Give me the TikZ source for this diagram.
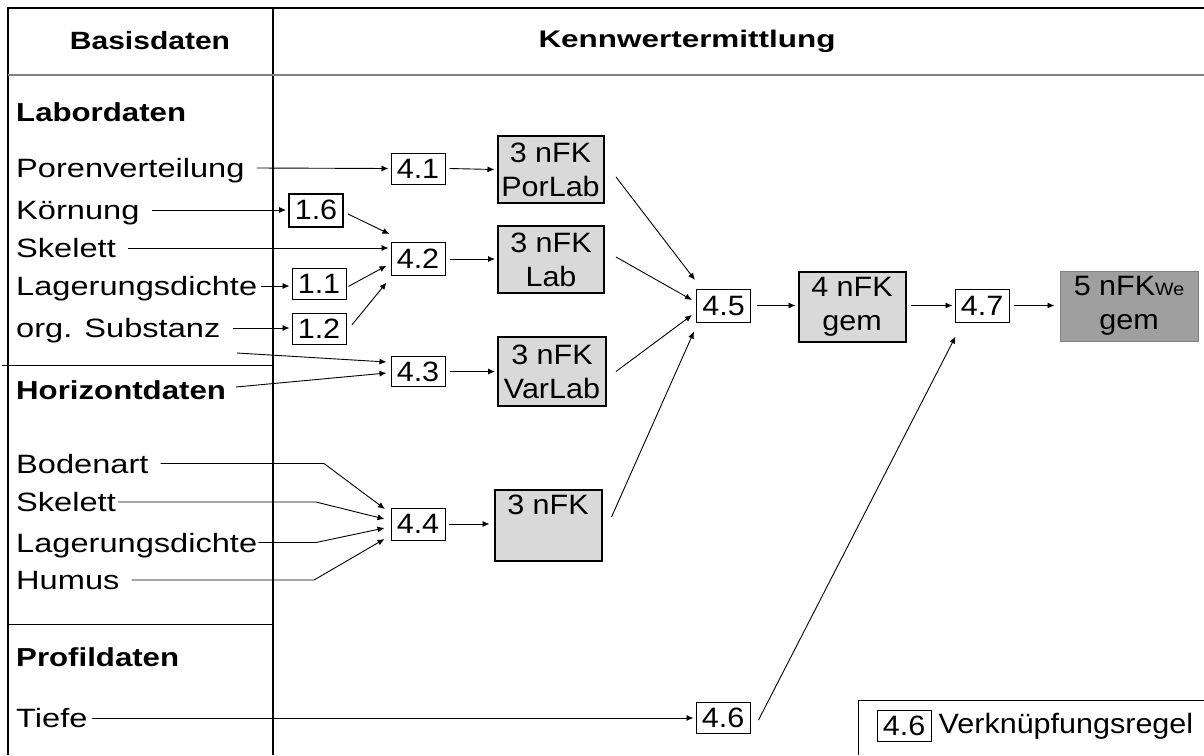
\documentclass[tikz,border=0pt]{standalone}
\usepackage{fontspec}
\setmainfont{Liberation Sans}
\newfontfamily\lblfont{Liberation Sans}[FakeStretch=1.23]
\newfontfamily\boxfont{Liberation Sans}[FakeStretch=1.09]
\newfontfamily\hdrfont{Liberation Sans}[FakeStretch=1.2]
\newfontfamily\hdrwfont{Liberation Sans}[FakeStretch=1.31]
\usetikzlibrary{arrows.meta}
\begin{document}
\begin{tikzpicture}[x=1pt,y=-1pt,
  lbl/.style={anchor=west,inner sep=0pt,text height=19pt,text depth=0pt,font=\lblfont\fontsize{26.5}{30}\selectfont},
  hdr/.style={inner sep=0pt,font=\hdrfont\fontsize{25}{25}\selectfont\bfseries},
  sec/.style={anchor=west,inner sep=0pt,text height=19pt,text depth=0pt,font=\hdrfont\fontsize{26}{26}\selectfont\bfseries},
  rulebox/.style={draw,line width=1pt,fill=white,inner sep=0pt,minimum width=54pt,minimum height=31pt,font=\boxfont\fontsize{28}{28}\selectfont},
  resbox/.style={draw,line width=2pt,fill=gray!30,align=center,font=\boxfont\fontsize{28}{34}\selectfont,inner sep=0pt,minimum width=106pt,minimum height=68pt},
  conn/.style={line width=0.9pt,-{Latex[length=7pt,width=6pt]}},
  frame/.style={line width=1.6pt},
]
\useasboundingbox (0,0) rectangle (1204,755);
\fill[white] (0,0) rectangle (1204,755);
% frame
\draw[frame] (1204,8) -- (8,8) -- (8,755);
\draw[line width=1.3pt] (273,8) -- (273,755);
\draw[line width=1.6pt,gray] (8,75) -- (1204,75);
\draw[line width=1pt] (2,365) -- (273,365);
\draw[line width=1pt] (8,624) -- (273,624);
% headers
\node[hdr] (hb) at (150,41) {Basisdaten};
\node[hdr,font=\hdrwfont\fontsize{24}{24}\selectfont\bfseries] (hk) at (687,41) {Kennwertermittlung};
% left labels
\node[sec] (labor) at (16,112) {Labordaten};
\node[lbl] (poren) at (16,168) {Porenverteilung};
\node[lbl] (koern) at (16,210) {Körnung};
\node[lbl] (skel1) at (16,248) {Skelett};
\node[lbl] (lag1) at (16,286) {Lagerungsdichte};
\node[lbl] (org) at (16,328) {org. Substanz};
\node[sec] (horiz) at (16,390) {Horizontdaten};
\node[lbl] (boden) at (16,463.5) {Bodenart};
\node[lbl] (skel2) at (16,502) {Skelett};
\node[lbl] (lag2) at (16,542.5) {Lagerungsdichte};
\node[lbl] (humus) at (16,580) {Humus};
\node[sec] (profil) at (16,657) {Profildaten};
\node[lbl] (tiefe) at (16,718) {Tiefe};
% rule boxes
\node[rulebox] (r41) at (418,168.5) {4.1};
\node[rulebox,line width=2pt,minimum height=33pt] (r16) at (316,210) {1.6};
\node[rulebox,minimum height=33pt] (r42) at (418,259) {4.2};
\node[rulebox] (r11) at (319,284) {1.1};
\node[rulebox] (r12) at (319,329) {1.2};
\node[rulebox,minimum height=30pt] (r43) at (418,371.5) {4.3};
\node[rulebox,minimum height=32pt] (r44) at (418,524) {4.4};
\node[rulebox,minimum height=33pt] (r45) at (723.5,305.5) {4.5};
\node[rulebox,minimum height=33pt] (r47) at (982,305.5) {4.7};
\node[rulebox] (r46) at (723,718) {4.6};
% result boxes
\node[resbox,minimum height=67pt] (porlab) at (550.5,169.5) {3 nFK\\PorLab};
\node[resbox,minimum height=67pt] (lab) at (551,259.5) {3 nFK\\Lab};
\node[resbox,minimum width=108pt,minimum height=69pt] (varlab) at (552,371.5) {3 nFK\\VarLab};
\node[resbox,minimum width=107pt,minimum height=71pt,anchor=north,text height=20pt,text depth=43pt] (nfk3) at (548,489) {3 nFK};
\node[resbox,minimum width=107pt,minimum height=70pt] (gem4) at (852,306.5) {4 nFK\\gem};
\node[draw=gray,line width=1pt,fill=gray!75,align=center,font=\boxfont\fontsize{28}{34}\selectfont,inner sep=0pt,minimum width=138pt,minimum height=70pt] (we5) at (1129,306) {5 nFK{\fontsize{18}{18}\selectfont We}\\gem};
% legend
\draw[line width=1pt] (1204,700) -- (858,700) -- (858,755);
\node[rulebox] (leg46) at (904,726) {4.6};
\node[anchor=west,inner sep=0pt,font=\boxfont\fontsize{28}{28}\selectfont] (legt) at ([xshift=7pt]leg46.east) {Verknüpfungsregel};
% connectors
\draw[conn] ([xshift=12pt]poren.east) -- ([xshift=-2pt]r41.west);
\draw[conn] ([xshift=4pt]r41.east) -- ([xshift=-2pt]porlab.west);
\draw[conn] ([xshift=12pt]koern.east) -- ([xshift=-2pt]r16.west);
\draw[conn] ([xshift=12pt]skel1.east) -- ([xshift=-2pt]r42.west |- skel1.east);
\draw[conn] ([xshift=4pt]lag1.east) -- ([xshift=-2pt]r11.west |- lag1.east);
\draw[conn] ([xshift=12pt]org.east) -- ([xshift=-2pt]r12.west |- org.east);
\draw[conn] ([xshift=4pt,yshift=-4pt]r16.east) -- ([xshift=-1pt,yshift=8pt]r42.north west);
\draw[conn] ([xshift=2pt,yshift=-2.4pt]r11.east) -- ([xshift=-4pt,yshift=-6.7pt]r42.west);
\draw[conn] ([xshift=5.5pt,yshift=4.2pt]r12.east) -- ([xshift=-4pt,yshift=-6.5pt]r42.south west);
\draw[conn] ([xshift=4pt]r42.east) -- ([xshift=-2pt]lab.west |- r42.east);
\coordinate (c43) at (237,353);
\draw[conn] (c43) -- ([xshift=-4pt,yshift=9.5pt]r43.west);
\draw[conn] ([xshift=10pt,yshift=3pt]horiz.east) -- ([xshift=-4pt,yshift=-1.5pt]r43.west);
\draw[conn] ([xshift=4pt]r43.east) -- ([xshift=-2pt]varlab.west |- r43.east);
\draw[conn] ([xshift=12pt]boden.east) -- (324,463.5) -- ([xshift=-5.6pt,yshift=15pt]r44.west);
\draw[conn] ([xshift=2pt]skel2.east) -- (316,502) -- ([xshift=-6pt,yshift=5pt]r44.west);
\draw[conn] ([xshift=1pt]lag2.east) -- (316,542.5) -- ([xshift=-6pt,yshift=-4pt]r44.west);
\draw[conn] ([xshift=12pt]humus.east) -- (314,580) -- ([xshift=-6pt,yshift=-15pt]r44.west);
\draw[conn] ([xshift=3pt]r44.east) -- ([xshift=-4pt]nfk3.west |- r44.east);
\draw[conn] ([xshift=11.5pt,yshift=-7.5pt]porlab.east) -- ([xshift=-1pt,yshift=8.5pt]r45.north west);
\draw[conn] ([xshift=11pt,yshift=2.5pt]lab.east) -- ([xshift=-4pt,yshift=5.5pt]r45.west);
\draw[conn] ([xshift=9pt]varlab.east) -- ([xshift=-4pt,yshift=-9.5pt]r45.west);
\draw[conn] ([xshift=9pt,yshift=8.5pt]nfk3.east) -- ([xshift=-2pt,yshift=-9pt]r45.south west);
\draw[conn] ([xshift=6pt]r45.east) -- ([xshift=-2pt]gem4.west |- r45.east);
\draw[conn] ([xshift=4pt]gem4.east |- r47.west) -- ([xshift=-2pt]r47.west);
\draw[conn] ([xshift=4pt]r47.east) -- ([xshift=-5pt]we5.west |- r47.east);
\draw[conn] ([xshift=4pt]tiefe.east) -- ([xshift=-2pt]r46.west);
\draw[conn] ([xshift=8pt,yshift=-2pt]r46.east) -- ([xshift=1pt,yshift=-14pt]r47.south west);
\end{tikzpicture}
\end{document}
